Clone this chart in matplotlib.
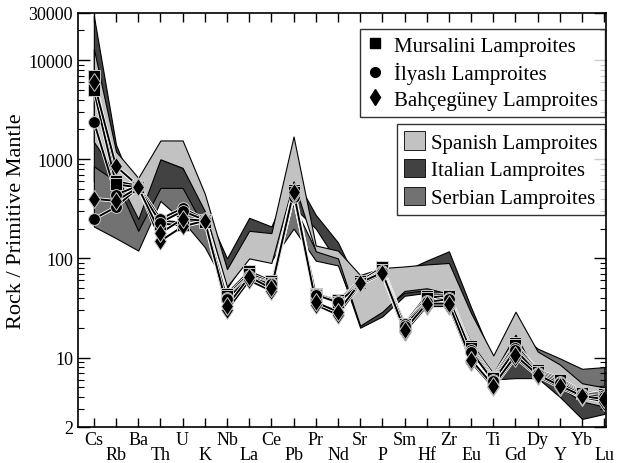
import numpy as np
import matplotlib.pyplot as plt
import matplotlib.patheffects as pe
from matplotlib.lines import Line2D
from matplotlib.patches import Patch
from matplotlib.ticker import FixedLocator, NullFormatter

plt.rcParams['font.family'] = ['Liberation Serif', 'DejaVu Serif']

elements = ['Cs', 'Rb', 'Ba', 'Th', 'U', 'K', 'Nb', 'La', 'Ce', 'Pb', 'Pr', 'Nd',
            'Sr', 'P', 'Sm', 'Hf', 'Zr', 'Eu', 'Ti', 'Gd', 'Dy', 'Y', 'Yb', 'Lu']

# field ranges (upper / lower)
italian_hi = [28000, 1400, 400, 1000, 820, 320, 100, 257, 210, 690, 275, 145,
              50, 50, 75, 95, 118, 32, 9.5, 17, 9, 7, 5.2, 5.0]
italian_lo = [600, 350, 180, 450, 400, 180, 60, 150, 140, 330, 200, 90,
              20, 26, 42, 45, 45, 15, 6.0, 6.2, 6.2, 4.0, 2.4, 2.7]
serbian_hi = [850, 600, 190, 515, 515, 200, 65, 150, 130, 350, 120, 110,
              35, 40, 55, 55, 55, 20, 8, 19, 12.3, 9.8, 7.7, 8.0]
serbian_lo = [210, 160, 120, 380, 240, 130, 50, 110, 95, 200, 95, 85,
              22, 30, 45, 48, 48, 12, 6, 12, 7.5, 6.5, 5.0, 5.2]
spanish_hi = [13000, 1200, 650, 1550, 1550, 450, 78, 190, 180, 1700, 135, 120,
              68, 80, 83, 87, 90, 28, 10.5, 29, 11.5, 8.5, 5.5, 5.0]
spanish_lo = [1500, 700, 250, 1000, 820, 300, 52, 100, 90, 600, 118, 100,
              21, 29, 47, 50, 44, 14, 6.9, 17, 6.5, 5.0, 3.6, 3.2]

# samples
mursalini = [
    [7000, 600, 540, 240, 230, 245, 44, 74, 59, 490, 44, 38, 59, 81, 22, 42, 43, 13, 6.4, 14, 7.4, 6.1, 4.5, 4.3],
    [5000, 560, 520, 225, 215, 235, 42, 70, 57, 470, 43, 36, 56, 77, 21, 40, 42, 12.5, 6.2, 13.5, 7.2, 5.9, 4.4, 4.1],
]
ilyasli = [
    [2400, 440, 540, 250, 320, 250, 40, 66, 56, 430, 44, 37, 57, 75, 22, 37, 40, 12, 6.0, 12.5, 7.0, 5.7, 4.3, 4.2],
    [250, 330, 520, 230, 300, 245, 39, 64, 55, 420, 43, 36, 55, 73, 21, 36, 39, 11.5, 5.8, 12, 6.8, 5.5, 4.2, 4.0],
]
bahceguney = [
    [6000, 850, 540, 150, 210, 240, 30, 60, 47, 450, 34, 27, 55, 70, 18, 33, 33, 9, 5.0, 10, 6.5, 5.0, 4.0, 3.6],
    [400, 380, 520, 180, 250, 240, 33, 65, 50, 470, 36, 29, 57, 72, 19, 35, 35, 9.5, 5.2, 10.5, 6.7, 5.2, 4.1, 3.8],
]

x = np.arange(len(elements))

fig = plt.figure(figsize=(6.18, 4.64), dpi=100)
ax = fig.add_axes([0.126, 0.078, 0.855, 0.892])

c_light, c_dark, c_mid = '#c2c2c2', '#424242', '#727272'
ax.fill_between(x, italian_lo, italian_hi, facecolor=c_dark, edgecolor='black', lw=0.8)
ax.fill_between(x, serbian_lo, serbian_hi, facecolor=c_mid, edgecolor='black', lw=0.8)
ax.fill_between(x, spanish_lo, spanish_hi, facecolor=c_light, edgecolor='black', lw=0.8)

outline = [pe.Stroke(linewidth=2.6, foreground='white'), pe.Normal()]
groups = [(mursalini, 's', 9), (ilyasli, 'o', 8.5), (bahceguney, 'd', 9.5)]
for rows, mk, ms in groups:
    for r in rows:
        ax.plot(x, r, color='black', lw=1.4, path_effects=outline)
for rows, mk, ms in groups:
    for r in rows:
        ax.plot(x, r, ls='none', marker=mk, ms=ms, mfc='black', mec='0.8', mew=0.7)

ax.set_yscale('log')
ax.set_ylim(2, 30000)
ax.set_xlim(-0.72, 23.09)
ax.yaxis.set_major_locator(FixedLocator([2, 10, 100, 1000, 10000, 30000]))
ax.set_yticklabels(['2', '10', '100', '1000', '10000', '30000'], fontsize=13)
minors = [m * 10 ** e for e in range(0, 5) for m in range(2, 10)]
minors = [v for v in minors if 2 < v < 30000 and v not in (10, 100, 1000, 10000)]
ax.yaxis.set_minor_locator(FixedLocator(minors))
ax.yaxis.set_minor_formatter(NullFormatter())

ax.set_xticks(x[::2], elements[::2], fontsize=13)
ax.set_xticks(x[1::2], elements[1::2], minor=True, fontsize=13)
ax.tick_params(axis='x', which='both', direction='in', top=True, length=6.5, width=1, pad=3)
ax.tick_params(axis='x', which='minor', pad=14)
ax.tick_params(axis='y', which='major', direction='in', right=True, length=8.5, width=1)
ax.tick_params(axis='y', which='minor', direction='in', right=True, length=4.5, width=0.8)
for s in ax.spines.values():
    s.set_linewidth(1.2)

ax.set_ylabel('Rock / Primitive Mantle', fontsize=16, labelpad=2)

h1 = [Line2D([], [], ls='none', marker='s', color='black', ms=7),
      Line2D([], [], ls='none', marker='o', color='black', ms=7),
      Line2D([], [], ls='none', marker='d', color='black', ms=8)]
leg1 = ax.legend(h1, ['Mursalini Lamproites', 'İlyaslı Lamproites', 'Bahçegüney Lamproites'],
                 loc='upper right', bbox_to_anchor=(0.998, 0.962), borderaxespad=0,
                 fontsize=15, frameon=True, fancybox=False, edgecolor='black',
                 handlelength=0.8, handletextpad=0.5, labelspacing=0.3, borderpad=0.35)
leg1.get_frame().set_linewidth(1.0)
ax.add_artist(leg1)

h2 = [Patch(facecolor=c_light, edgecolor='black', lw=0.6),
      Patch(facecolor=c_dark, edgecolor='black', lw=0.6),
      Patch(facecolor=c_mid, edgecolor='black', lw=0.6)]
leg2 = ax.legend(h2, ['Spanish Lamproites', 'Italian Lamproites', 'Serbian Lamproites'],
                 loc='upper right', bbox_to_anchor=(0.998, 0.732), borderaxespad=0,
                 fontsize=15, frameon=True, fancybox=False, edgecolor='black',
                 handlelength=1.0, handleheight=1.0, handletextpad=0.3,
                 labelspacing=0.3, borderpad=0.35)
leg2.get_frame().set_linewidth(1.0)

fig.savefig('out.png', dpi=100)
